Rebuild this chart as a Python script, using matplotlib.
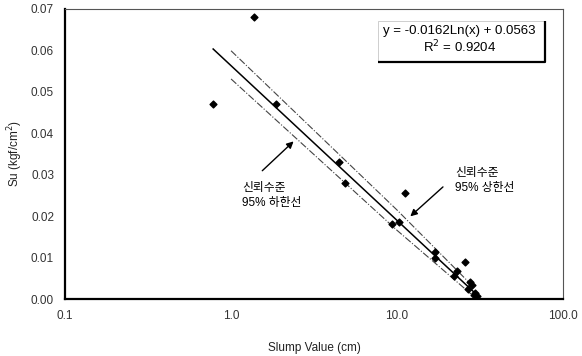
import numpy as np
from matplotlib import pyplot as plt
from matplotlib.patches import Rectangle

plt.rcParams['font.family'] = ['Liberation Sans', 'Noto Sans CJK KR', 'DejaVu Sans']

# measured points (slump cm, Su kgf/cm2)
slump = [0.78, 1.38, 1.87, 4.45, 4.84, 9.3, 10.3, 11.2, 17.0, 17.0,
         22.1, 23.1, 25.8, 27.0, 27.7, 28.3, 29.3, 29.7, 30.5]
su = [0.047, 0.068, 0.047, 0.033, 0.028, 0.018, 0.0186, 0.0256, 0.0114, 0.0099,
      0.0056, 0.0068, 0.0089, 0.0024, 0.0041, 0.0034, 0.0010, 0.0015, 0.0007]

coef_a = -0.0162
coef_b = 0.0563
fit_range = (0.78, 30.5)

# 95% bands
band_x = [1.0, 10.0, 28.0]
upper_y = [0.0599, 0.0215, 0.0035]
lower_y = [0.0531, 0.0166, 0.0012]

x_ticks = [0.1, 1.0, 10.0, 100.0]
x_ticklabels = ['0.1', '1.0', '10.0', '100.0']
y_ticks = [0.00, 0.01, 0.02, 0.03, 0.04, 0.05, 0.06, 0.07]

fig = plt.figure(figsize=(5.82, 3.56), dpi=100)
ax = fig.add_axes([0.112, 0.16, 0.855, 0.815])

xf = np.geomspace(*fit_range, 100)
ax.plot(xf, coef_a * np.log(xf) + coef_b, color='black', lw=1.1, zorder=2)
ax.plot(band_x, upper_y, color='#444444', lw=0.8, ls='-.', zorder=2)
ax.plot(band_x, lower_y, color='#444444', lw=0.8, ls='-.', zorder=2)
ax.scatter(slump, su, marker='D', s=12, color='black', zorder=3)

ax.set_xscale('log')
ax.set_xlim(0.1, 100)
ax.set_ylim(0, 0.07)
ax.set_xticks(x_ticks)
ax.set_xticklabels(x_ticklabels)
ax.set_yticks(y_ticks)
ax.set_yticklabels(['%.2f' % v for v in y_ticks])
ax.minorticks_off()
ax.tick_params(length=0, labelsize=8.5, labelcolor='#333333', pad=8)

ax.spines['left'].set_linewidth(1.6)
ax.spines['bottom'].set_linewidth(1.6)
ax.spines['top'].set_linewidth(0.8)
ax.spines['right'].set_linewidth(0.8)
ax.spines['top'].set_color('#555555')
ax.spines['right'].set_color('#555555')

ax.set_xlabel('Slump Value (cm)', fontsize=8.5, color='#222222', labelpad=14)
ax.set_ylabel('Su (kgf/cm$^2$)', fontsize=8.5, color='#222222', labelpad=4)

# equation box: faint top/left, heavy bottom/right
ax.add_patch(Rectangle((0.629, 0.817), 0.335, 0.141, transform=ax.transAxes,
                       fc='white', ec='#bbbbbb', lw=0.5, zorder=4))
ax.plot([0.629, 0.964, 0.964], [0.817, 0.817, 0.958], transform=ax.transAxes,
        color='black', lw=1.6, solid_capstyle='butt', zorder=5)
ax.text(0.792, 0.924, 'y = -0.0162Ln(x) + 0.0563', transform=ax.transAxes,
        ha='center', va='center', fontsize=9.5, zorder=6)
ax.text(0.792, 0.868, 'R$^2$ = 0.9204', transform=ax.transAxes,
        ha='center', va='center', fontsize=9.5, zorder=6)

ax.annotate('', xy=(2.45, 0.0385), xytext=(1.5, 0.0305),
            arrowprops=dict(arrowstyle='-|>', color='black', lw=1.0, mutation_scale=10))
ax.text(1.17, 0.0282, '신뢰수준\n95% 하한선', fontsize=8.5, va='top', ha='left', linespacing=1.3)

ax.annotate('', xy=(11.7, 0.0195), xytext=(19.5, 0.0275),
            arrowprops=dict(arrowstyle='-|>', color='black', lw=1.0, mutation_scale=10))
ax.text(22.5, 0.0318, '신뢰수준\n95% 상한선', fontsize=8.5, va='top', ha='left', linespacing=1.3)

fig.savefig('out.png', dpi=100)
